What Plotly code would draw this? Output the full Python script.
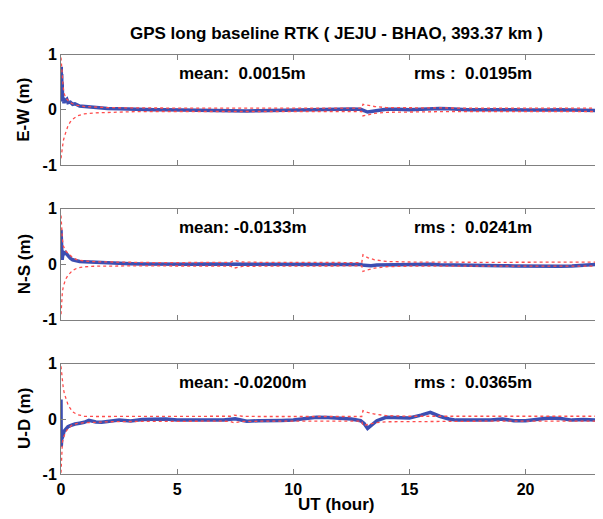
import plotly.graph_objects as go

# ---------------- data ----------------
panel_labels = ["E-W (m)", "N-S (m)", "U-D (m)"]
mean_texts = ["mean:\u00a0\u00a00.0015m", "mean:\u00a0-0.0133m", "mean:\u00a0-0.0200m"]
rms_texts = ["rms\u00a0:\u00a0\u00a00.0195m", "rms\u00a0:\u00a0\u00a00.0241m", "rms\u00a0:\u00a0\u00a00.0365m"]
x_ticks = [0, 5, 10, 15, 20]
y_ticks = [-1, 0, 1]

# time of solution samples (hour)
t_sol = [0, 0.01, 0.02, 0.03, 0.04, 0.05, 0.07, 0.1, 0.13, 0.17,
         0.2, 0.25, 0.3, 0.4, 0.5, 0.6, 0.8, 1.0, 1.2, 1.5,
         1.75, 2.0, 2.5, 3.0, 3.5, 4.0, 4.5, 5.0, 5.5, 6.0,
         6.5, 7.0, 7.5, 8.0, 8.5, 9.0, 9.5, 10.0, 10.5, 11.0,
         11.5, 12.0, 12.5, 12.9, 13.05, 13.2, 13.35, 13.6, 14.0, 14.5,
         15.0, 15.5, 15.9, 16.3, 16.7, 17.0, 17.5, 18.0, 18.5, 19.0,
         19.5, 20.0, 20.5, 21.0, 21.5, 22.0, 22.5, 23.0, 23.5, 23.7]

ew_err = [0.72, 0.78, 0.45, 0.65, 0.30, 0.50, 0.15, 0.22, 0.12, 0.20,
          0.17, 0.19, 0.13, 0.14, 0.10, 0.11, 0.07, 0.06, 0.05, 0.035,
          0.03, 0.025, 0.02, 0.01, 0.005, 0.0, 0.0, -0.005, -0.01, -0.015,
          -0.02, -0.02, -0.015, -0.02, -0.015, -0.01, -0.005, 0.0, 0.01, 0.015,
          0.02, 0.02, 0.015, 0.01, -0.02, -0.04, -0.03, -0.01, 0.01, 0.01,
          0.0, 0.01, 0.02, 0.025, 0.02, 0.01, 0.0, 0.0, 0.005, 0.0,
          0.0, -0.005, -0.01, -0.005, 0.0, -0.005, -0.01, -0.005, -0.015, -0.02]

ns_err = [0.62, 0.30, 0.45, 0.10, 0.20, 0.08, 0.15, 0.20, 0.21, 0.20,
          0.21, 0.18, 0.15, 0.11, 0.08, 0.065, 0.05, 0.045, 0.04, 0.035,
          0.03, 0.03, 0.02, 0.01, 0.005, 0.0, 0.0, -0.005, 0.0, 0.005,
          0.005, 0.0, 0.0, -0.005, -0.01, -0.005, -0.005, 0.0, 0.0, -0.005,
          -0.005, 0.0, 0.0, -0.005, -0.02, -0.03, -0.025, -0.015, -0.01, -0.005,
          0.0, 0.005, 0.0, -0.01, -0.01, -0.015, -0.015, -0.02, -0.02, -0.025,
          -0.03, -0.035, -0.04, -0.035, -0.035, -0.03, -0.02, -0.01, 0.005, 0.01]

ud_err = [0.35, -0.50, -0.30, -0.45, -0.30, -0.35, -0.30, -0.26, -0.22, -0.20,
          -0.18, -0.16, -0.14, -0.12, -0.10, -0.09, -0.075, -0.06, -0.025, -0.055,
          -0.06, -0.05, -0.02, -0.035, -0.01, -0.005, 0.0, -0.02, -0.02, -0.03,
          -0.025, -0.02, 0.005, -0.04, -0.03, -0.02, -0.025, -0.02, 0.0, 0.03,
          0.025, 0.02, 0.0, -0.03, -0.08, -0.17, -0.12, -0.03, 0.03, 0.02,
          0.02, 0.07, 0.12, 0.05, 0.0, -0.02, -0.02, -0.01, -0.02, 0.0,
          -0.03, -0.03, 0.0, 0.02, 0.01, -0.02, -0.01, -0.02, -0.01, -0.03]

# time of the error envelope (hour)
t_env = [0, 0.03, 0.06, 0.1, 0.15, 0.2, 0.3, 0.4, 0.5, 0.7,
         1.0, 1.5, 2.0, 3.0, 4.0, 5.0, 6.0, 7.0, 7.3, 7.45,
         7.8, 8.5, 10.0, 11.0, 12.0, 12.95, 13.0, 13.2, 13.5, 14.0,
         15.0, 16.0, 17.0, 18.0, 19.0, 20.0, 21.0, 22.0, 23.0, 23.7]

ew_up = [0.95, 0.75, 0.55, 0.38, 0.28, 0.22, 0.17, 0.13, 0.11, 0.08,
         0.06, 0.05, 0.04, 0.035, 0.03, 0.03, 0.03, 0.03, 0.03, 0.03,
         0.03, 0.03, 0.03, 0.03, 0.03, 0.03, 0.10, 0.08, 0.06, 0.04,
         0.035, 0.035, 0.03, 0.03, 0.03, 0.03, 0.03, 0.03, 0.03, 0.03]
ew_lo = [-0.88, -0.76, -0.66, -0.56, -0.48, -0.40, -0.29, -0.22, -0.17, -0.11,
         -0.075, -0.055, -0.047, -0.035, -0.03, -0.03, -0.03, -0.03, -0.03, -0.03,
         -0.03, -0.03, -0.03, -0.03, -0.03, -0.03, -0.11, -0.09, -0.065, -0.045,
         -0.035, -0.035, -0.03, -0.03, -0.03, -0.03, -0.03, -0.03, -0.03, -0.03]

ns_up = [0.88, 0.60, 0.45, 0.33, 0.27, 0.24, 0.20, 0.15, 0.12, 0.08,
         0.06, 0.045, 0.04, 0.035, 0.03, 0.03, 0.03, 0.03, 0.035, 0.07,
         0.04, 0.035, 0.035, 0.03, 0.03, 0.03, 0.17, 0.12, 0.08, 0.05,
         0.04, 0.035, 0.035, 0.035, 0.035, 0.035, 0.035, 0.035, 0.04, 0.04]
ns_lo = [-0.90, -0.65, -0.50, -0.40, -0.32, -0.27, -0.20, -0.15, -0.11, -0.07,
         -0.046, -0.035, -0.03, -0.03, -0.03, -0.03, -0.03, -0.03, -0.035, -0.07,
         -0.04, -0.035, -0.035, -0.03, -0.03, -0.03, -0.13, -0.10, -0.07, -0.045,
         -0.035, -0.035, -0.035, -0.035, -0.035, -0.035, -0.035, -0.035, -0.035, -0.035]

ud_up = [0.95, 0.80, 0.68, 0.55, 0.45, 0.37, 0.26, 0.19, 0.13, 0.08,
         0.05, 0.045, 0.045, 0.045, 0.045, 0.045, 0.045, 0.045, 0.05, 0.07,
         0.05, 0.045, 0.045, 0.045, 0.045, 0.045, 0.15, 0.12, 0.09, 0.06,
         0.05, 0.05, 0.05, 0.05, 0.05, 0.05, 0.05, 0.05, 0.05, 0.05]
ud_lo = [-0.97, -0.55, -0.42, -0.34, -0.28, -0.24, -0.17, -0.13, -0.10, -0.08,
         -0.065, -0.06, -0.05, -0.045, -0.04, -0.04, -0.04, -0.04, -0.045, -0.07,
         -0.045, -0.04, -0.04, -0.04, -0.04, -0.04, -0.12, -0.10, -0.07, -0.05,
         -0.045, -0.04, -0.04, -0.04, -0.04, -0.04, -0.04, -0.04, -0.04, -0.04]

errs = [ew_err, ns_err, ud_err]
ups = [ew_up, ns_up, ud_up]
los = [ew_lo, ns_lo, ud_lo]

# ---------------- figure ----------------
W, H = 603, 519
ML = 53
FONT = "Liberation Sans, Arial, Helvetica, sans-serif"
AXC = "#808080"
BLUE = "#3c4fb2"
RED = "#ff4d4d"

# panel pixel extents (top, bottom)
panel_px = [(40, 154), (199.3, 314), (359.3, 474)]

fig = go.Figure()
layout = dict(
    width=W, height=H,
    margin=dict(l=ML, r=0, t=0, b=0),
    paper_bgcolor="white", plot_bgcolor="white",
    showlegend=False,
    font=dict(family=FONT, size=15, color="black"),
)

annotations = []
for i in range(3):
    n = i + 1
    xa = "x" if n == 1 else f"x{n}"
    ya = "y" if n == 1 else f"y{n}"
    fig.add_trace(go.Scatter(x=t_sol, y=errs[i], mode="lines",
                             line=dict(color=BLUE, width=3.5),
                             xaxis=xa, yaxis=ya, hoverinfo="skip"))
    for env in (ups[i], los[i]):
        fig.add_trace(go.Scatter(x=t_env, y=env, mode="lines",
                                 line=dict(color=RED, width=1.3, dash="dot"),
                                 xaxis=xa, yaxis=ya, hoverinfo="skip"))
    top, bot = panel_px[i]
    dom = [1 - bot / H, 1 - top / H]
    xkey = "xaxis" if n == 1 else f"xaxis{n}"
    ykey = "yaxis" if n == 1 else f"yaxis{n}"
    layout[xkey] = dict(
        domain=[0, 1], range=[0, 23.68], anchor=ya,
        tickvals=x_ticks, showticklabels=(n == 3),
        ticks="inside", ticklen=5, tickcolor=AXC, tickwidth=1,
        showline=True, linecolor=AXC, linewidth=1, mirror="ticks",
        showgrid=False, zeroline=False,
        tickfont=dict(family=FONT, size=16, color="black", weight="bold"),
    )
    layout[ykey] = dict(
        domain=dom, range=[-1, 1], anchor=xa,
        tickvals=y_ticks, ticktext=["-1", "0", "1"],
        ticks="inside", ticklen=5, tickcolor=AXC, tickwidth=1,
        showline=True, linecolor=AXC, linewidth=1, mirror=False,
        showgrid=False, zeroline=False,
        tickfont=dict(family=FONT, size=16, color="black", weight="bold"),
    )
    annotations.append(dict(x=5.0, y=0.66, xref=xa, yref=ya, text=mean_texts[i],
                            showarrow=False, xanchor="left", yanchor="middle",
                            font=dict(family=FONT, size=17, color="black", weight="bold")))
    annotations.append(dict(x=15.1, y=0.66, xref=xa, yref=ya, text=rms_texts[i],
                            showarrow=False, xanchor="left", yanchor="middle",
                            font=dict(family=FONT, size=17, color="black", weight="bold")))
    annotations.append(dict(x=(16 - ML) / (W - ML), y=1 - ((top + bot) / 2) / H,
                            xref="paper", yref="paper", text=panel_labels[i],
                            showarrow=False, textangle=-90, xanchor="center", yanchor="middle",
                            font=dict(family=FONT, size=17, color="black", weight="bold")))

annotations.append(dict(x=0.5, y=1 - 18 / H, xref="paper", yref="paper",
                        text="GPS long baseline RTK ( JEJU - BHAO, 393.37 km )",
                        showarrow=False, xanchor="center", yanchor="middle",
                        font=dict(family=FONT, size=17, color="black", weight="bold")))
annotations.append(dict(x=0.5, y=1 - 505 / H, xref="paper", yref="paper",
                        text="UT (hour)", showarrow=False, xanchor="center", yanchor="middle",
                        font=dict(family=FONT, size=17, color="black", weight="bold")))
layout["annotations"] = annotations
fig.update_layout(**layout)
fig.write_html("out.html")
